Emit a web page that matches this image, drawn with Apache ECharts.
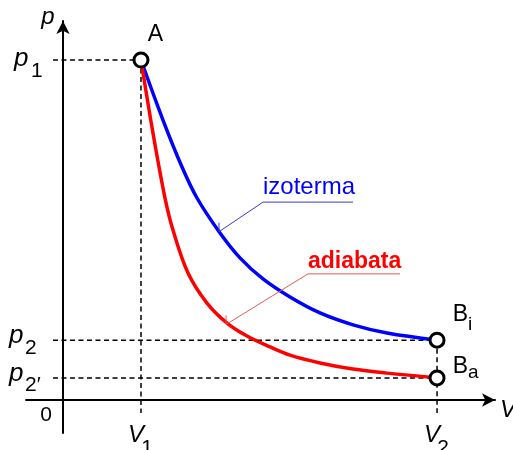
<!DOCTYPE html>
<html><head><meta charset="utf-8">
<script src="https://cdn.jsdelivr.net/npm/echarts@6/dist/echarts.min.js"></script>
<style>html,body{margin:0;padding:0;background:#fff}#c{width:513px;height:450px}</style>
</head><body><div id="c"></div>
<script>
// ---- data (V in units of V1, p in units with p1 = 10) ----
const isothermV = [1.000, 1.282, 1.526, 1.718, 2.013, 2.269, 2.564, 2.910, 3.295, 3.718, 4.154, 4.795];
const isothermP = [10.00, 8.235, 6.853, 5.941, 4.912, 4.18, 3.56, 3.03, 2.56, 2.21, 1.97, 1.76];
const adiabatV  = [1.000, 1.154, 1.308, 1.410, 1.603, 1.846, 2.103, 2.359, 2.654, 2.910, 3.295, 3.718, 4.154, 4.795];
const adiabatP  = [10.00, 7.85, 5.94, 5.00, 3.735, 2.85, 2.26, 1.88, 1.56, 1.32, 1.09, 0.91, 0.79, 0.65];
const volumeTicks = [1.0, 4.795];
const volumeTickSubs = ['1', '2'];
const pressureTicks = [10.0, 1.76, 0.65];
const pressureTickSubs = ['1', '2', '2\u2032'];
const stateNames = ['A', 'B', 'B'];
const stateSubs = ['', 'i', 'a'];
const stateV = [1.0, 4.795, 4.795];
const stateP = [10.0, 1.76, 0.65];
const curveLabels = ['izoterma', 'adiabata'];

// ---- layout (not data) ----
const X_MIN = -0.474, X_MAX = 5.538, Y_MIN = -0.971, Y_MAX = 11.147;
const GUIDE_LEFT = -0.128, GUIDE_BOTTOM = -0.38;
const FONT = '"Liberation Sans", Arial, sans-serif';
const annot = [
  { color: '#0000ff', lead: '#3a3ac8', left: [2.564, 5.82], right: [3.718, 5.82], tip: [2.0, 4.95], bold: false, size: 24, dy: -15 },
  { color: '#ff0000', lead: '#e05a5a', left: [3.141, 3.71], right: [4.321, 3.71], tip: [2.09, 2.22], bold: true, size: 23, dy: -12 }
];
const pLab = [ { px: 14, py: -1, sx: 31, sy: 11.5 }, { px: 9, py: -4, sx: 25, sy: 8 }, { px: 9, py: -4, sx: 25, sy: 7.5 } ];
const sLab = [ { bx: 14.5, by: -25, sx: 0, sy: 0 }, { bx: 23.5, by: -25.5, sx: 31, sy: -15 }, { bx: 23.5, by: -11.5, sx: 31, sy: -5 } ];

const zip = (a, b) => a.map((v, i) => [v, b[i]]);

const guides = [];
pressureTicks.forEach((p, i) => guides.push([[GUIDE_LEFT, p], [stateV[i], p]]));
volumeTicks.forEach((v, i) => {
  const top = Math.max(...stateP.filter((_, k) => stateV[k] === v));
  guides.push([[v, top], [v, GUIDE_BOTTOM]]);
});

function txt(x, y, s, size, opt) {
  opt = opt || {};
  return { type: 'text', x: x, y: y, silent: true, style: {
    text: s, fill: opt.color || '#000', fontSize: size, fontFamily: FONT,
    fontStyle: opt.italic ? 'italic' : 'normal', fontWeight: opt.bold ? 'bold' : 'normal',
    align: opt.align || 'left', verticalAlign: 'middle' } };
}

function renderLabels(params, api) {
  const ch = [];
  const top = api.coord([0, Y_MAX]);
  ch.push(txt(top[0] - 15, top[1] - 4, 'p', 24, { italic: true, align: 'center' }));
  const right = api.coord([X_MAX, 0]);
  ch.push(txt(right[0] + 5, right[1] + 10, 'V', 24, { italic: true }));
  const o = api.coord([0, 0]);
  ch.push(txt(o[0] - 17, o[1] + 15, '0', 21, { align: 'center' }));
  pressureTicks.forEach((p, i) => {
    const c = api.coord([0, p]);
    ch.push(txt(pLab[i].px, c[1] + pLab[i].py, 'p', 26, { italic: true }));
    ch.push(txt(pLab[i].sx, c[1] + pLab[i].sy, pressureTickSubs[i], 21));
  });
  volumeTicks.forEach((v, i) => {
    const c = api.coord([v, 0]);
    ch.push(txt(c[0] - 5, c[1] + 35, 'V', 24, { italic: true, align: 'center' }));
    ch.push(txt(c[0] + 6, c[1] + 48, volumeTickSubs[i], 21, { align: 'center' }));
  });
  stateNames.forEach((n, i) => {
    const c = api.coord([stateV[i], stateP[i]]);
    ch.push(txt(c[0] + sLab[i].bx, c[1] + sLab[i].by, n, 23, { align: 'center' }));
    if (stateSubs[i]) ch.push(txt(c[0] + sLab[i].sx, c[1] + sLab[i].sy, stateSubs[i], 19));
  });
  annot.forEach((a, i) => {
    const L = api.coord(a.left), R = api.coord(a.right), T = api.coord(a.tip);
    ch.push({ type: 'polyline', silent: true, shape: { points: [R, L, T] }, style: { stroke: a.lead, lineWidth: 1, fill: null } });
    ch.push({ type: 'line', silent: true, shape: { x1: T[0], y1: T[1], x2: T[0], y2: T[1] - 9 }, style: { stroke: a.lead, lineWidth: 1 } });
    ch.push(txt(L[0], L[1] + a.dy, curveLabels[i], a.size, { color: a.color, bold: a.bold }));
  });
  return { type: 'group', children: ch };
}

const chart = echarts.init(document.getElementById('c'), null, { renderer: 'canvas' });
const axisCommon = {
  type: 'value',
  axisLine: { show: true, onZero: true, symbol: ['none', 'arrow'], symbolSize: [10, 13], lineStyle: { color: '#000', width: 2 } },
  axisTick: { show: false }, axisLabel: { show: false }, splitLine: { show: false }
};
const series = [];
guides.forEach(g => series.push({
  type: 'line', data: g, showSymbol: false, silent: true, z: 2, animation: false,
  lineStyle: { color: '#000', width: 1.5, type: [5, 3.5] }
}));
series.push({ type: 'line', name: curveLabels[0], data: zip(isothermV, isothermP), smooth: 0.35, showSymbol: false, z: 3, animation: false, lineStyle: { color: '#0000ff', width: 3.5 } });
series.push({ type: 'line', name: curveLabels[1], data: zip(adiabatV, adiabatP), smooth: 0.35, showSymbol: false, z: 3, animation: false, lineStyle: { color: '#ff0000', width: 3.5 } });
series.push({ type: 'scatter', data: zip(stateV, stateP), symbol: 'circle', symbolSize: 14, z: 5, animation: false,
  itemStyle: { color: '#fff', borderColor: '#000', borderWidth: 3, opacity: 1 } });
series.push({ type: 'custom', data: [[0, 0]], renderItem: renderLabels, z: 6, clip: false, animation: false, silent: true });

chart.setOption({
  backgroundColor: '#fff',
  animation: false,
  grid: { left: 26, right: 18, top: 21, bottom: 17, containLabel: false },
  xAxis: Object.assign({}, axisCommon, { min: X_MIN, max: X_MAX }),
  yAxis: Object.assign({}, axisCommon, { min: Y_MIN, max: Y_MAX }),
  series: series
});
</script></body></html>
